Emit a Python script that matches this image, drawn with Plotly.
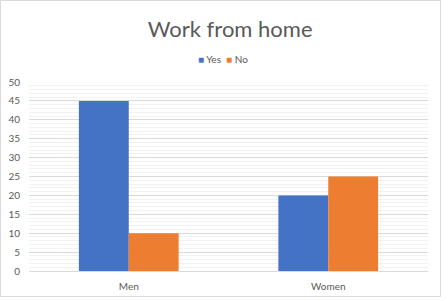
import plotly.graph_objects as go

categories = ["Men", "Women"]
yes_values = [45, 20]
no_values = [10, 25]
y_ticks = [0, 5, 10, 15, 20, 25, 30, 35, 40, 45, 50]
series_names = ["Yes", "No"]
series_colors = ["#4472C4", "#ED7D31"]

W, H = 448, 301
L, R, T, B = 29, 20, 82, 30
pw, ph = W - L - R, H - T - B

fig = go.Figure()
for name, vals, col in zip(series_names, [yes_values, no_values], series_colors):
    fig.add_trace(go.Bar(name=name, x=categories, y=vals, showlegend=False,
                         marker=dict(color=col, line=dict(width=0))))

def px(x):
    return (x - L) / pw

def py(y):
    return (H - B - y) / ph

legend_text = "  ".join(
    f"<span style='color:{c}'>■</span> {n}" for n, c in zip(series_names, series_colors)
)

fig.update_layout(
    width=W, height=H,
    margin=dict(l=L, r=R, t=T, b=B, autoexpand=False),
    paper_bgcolor="white", plot_bgcolor="white",
    barmode="group", bargap=0.5, bargroupgap=0,
    font=dict(family="Lato, Open Sans, sans-serif", color="#595959", size=10),
    title=dict(text="Work from home", x=px(234), xanchor="center", y=1 - 29 / H, yanchor="middle",
               font=dict(size=22, color="#595959", family="Lato, Open Sans, sans-serif")),
    showlegend=False,
    annotations=[dict(text=legend_text, xref="paper", yref="paper", x=px(223), y=py(59),
                      xanchor="center", yanchor="middle", showarrow=False,
                      font=dict(size=10, color="#595959", family="Lato, sans-serif"))],
    xaxis=dict(showgrid=False, showline=True, linecolor="#D9D9D9", linewidth=1, automargin=False,
               tickfont=dict(size=10, color="#595959"), ticks="", ticklabelstandoff=6),
    yaxis=dict(range=[0, 50], tickvals=y_ticks, showgrid=True, gridcolor="#D9D9D9", gridwidth=1,
               zeroline=False, showline=False, ticks="", ticklabelstandoff=8, automargin=False,
               tickfont=dict(size=10, color="#595959"),
               minor=dict(dtick=1, showgrid=True, gridcolor="#F2F2F2", gridwidth=1)),
    shapes=[dict(type="rect", xref="paper", yref="paper",
                 x0=px(0.5), x1=px(440.5), y0=py(296.5), y1=py(0.5),
                 line=dict(color="#D9D9D9", width=1), fillcolor="rgba(0,0,0,0)", layer="below")],
)

fig.write_html("out.html")
